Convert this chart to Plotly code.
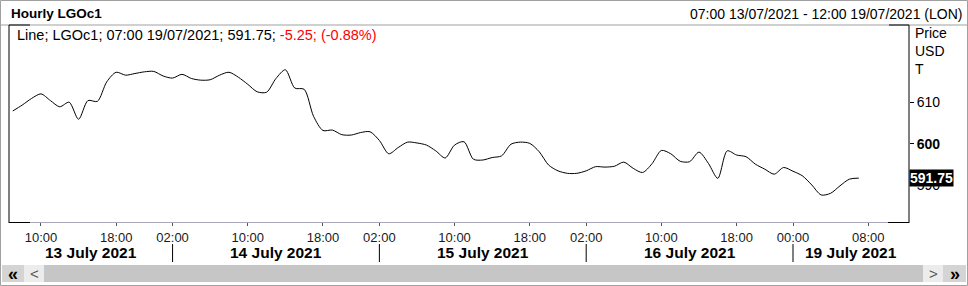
import plotly.graph_objects as go

# ---- data ----
days = [("13/07", 7, 23), ("14/07", 2, 23), ("15/07", 2, 23), ("16/07", 2, 23), ("19/07", 0, 7)]
times = [f"{d} {h:02d}:00" for d, h0, h1 in days for h in range(h0, h1 + 1)]

prices = [607.9, 609.3, 610.9, 612.0, 610.4, 608.9, 610.0, 605.9, 610.4, 610.2,
          614.9, 617.2, 616.5, 616.9, 617.3, 617.4, 616.3, 615.8, 616.7, 615.7,
          615.3, 615.4, 616.5, 617.2, 616.0, 614.3, 612.5, 612.4, 615.7, 617.8,
          613.4, 613.1, 606.6, 603.2, 603.3, 602.2, 602.1, 602.7, 602.9, 600.8,
          597.6, 599.1, 600.4, 600.2, 599.7, 598.3, 596.6, 599.7, 600.5, 596.3,
          596.1, 596.7, 597.1, 599.9, 600.4, 600.1, 598.1, 594.9, 593.5, 592.9,
          592.9, 593.5, 594.5, 594.4, 594.6, 595.6, 594.1, 593.1, 595.2, 598.4,
          597.6, 595.8, 595.7, 598.0, 595.3, 591.7, 598.3, 597.3, 596.9, 595.1,
          593.9, 592.7, 594.3, 593.4, 592.3, 590.1, 587.7, 588.1, 589.9, 591.5,
          591.75]

tick_times = ["13/07 10:00", "13/07 18:00", "14/07 02:00", "14/07 10:00", "14/07 18:00",
              "15/07 02:00", "15/07 10:00", "15/07 18:00", "16/07 02:00", "16/07 10:00",
              "16/07 18:00", "19/07 00:00", "19/07 08:00"]
tick_labels = ["10:00", "18:00", "02:00", "10:00", "18:00", "02:00", "10:00", "18:00",
               "02:00", "10:00", "18:00", "00:00", "08:00"]
all_ticks = times + ["19/07 08:00", "19/07 09:00", "19/07 10:00", "19/07 11:00", "19/07 12:00"]

day_labels = ["13 July 2021", "14 July 2021", "15 July 2021", "16 July 2021", "19 July 2021"]
day_starts = ["14/07 02:00", "15/07 02:00", "16/07 02:00", "19/07 00:00"]

y_ticks = [590, 600, 610]
y_ticktext = ["590", "<b>600</b>", "610"]

last_price = prices[-1]
FONT = "Liberation Sans, Arial, sans-serif"

W, H = 968, 286
L, R, T, B = 9, 909, 25, 222


def px(x):
    return (x - L) / (R - L)


def py(y):
    return (B - y) / (B - T)


fig = go.Figure()
fig.add_trace(go.Scatter(x=times, y=prices, mode="lines",
                         line=dict(color="black", width=1, shape="spline", smoothing=0.8),
                         hoverinfo="skip", showlegend=False))

idx = {t: i for i, t in enumerate(all_ticks)}
x_lo, x_hi = -0.4, 95.34

fig.update_layout(
    width=W, height=H,
    margin=dict(l=L, r=W - R, t=T, b=H - B),
    paper_bgcolor="white", plot_bgcolor="white",
    font=dict(family=FONT, size=13, color="black"),
    showlegend=False,
    xaxis=dict(type="category", categoryorder="array", categoryarray=all_ticks,
               range=[x_lo, x_hi], showgrid=False, zeroline=False, showline=False,
               tickmode="array", tickvals=tick_times, ticktext=tick_labels,
               ticks="outside", ticklen=3, tickcolor="#555", tickwidth=1,
               tickfont=dict(size=13, color="#1a1a1a", family=FONT)),
    yaxis=dict(side="right", range=[581.2, 628.56], showgrid=False, zeroline=False,
               showline=False, tickmode="array", tickvals=y_ticks, ticktext=y_ticktext,
               ticks="outside", ticklen=4, tickcolor="black",
               tickfont=dict(size=14, color="black", family=FONT)),
)

shapes = []
# outer border
shapes.append(dict(type="rect", xref="paper", yref="paper", x0=px(0.5), x1=px(W - 0.5),
                   y0=py(0.5), y1=py(H - 0.5), line=dict(color="#a0a0a0", width=1)))
# header separator line
shapes.append(dict(type="line", xref="paper", yref="paper", x0=px(0), x1=px(W),
                   y0=py(25), y1=py(25), line=dict(color="#a0a0a0", width=1)))
# bottom axis line light
shapes.append(dict(type="line", xref="paper", yref="paper", x0=px(9), x1=px(909),
                   y0=py(222.5), y1=py(222.5), line=dict(color="#a8a8b8", width=1)))
# plot frame black pieces
for (x0, y0, x1, y1) in [(9, 25, 9, 223), (909, 25, 909, 223), (9, 25, 30, 25),
                         (889, 25, 909, 25), (9, 222.5, 30, 222.5), (888, 222.5, 909, 222.5)]:
    shapes.append(dict(type="line", xref="paper", yref="paper", x0=px(x0), x1=px(x1),
                       y0=py(y0), y1=py(y1), line=dict(color="black", width=1)))
# day separators
for d in day_starts:
    shapes.append(dict(type="line", xref="x", yref="paper", x0=idx[d], x1=idx[d],
                       y0=py(244), y1=py(262), line=dict(color="black", width=1)))
# scrollbar
for (x0, x1, c) in [(44, 923, "#c6c6c6"), (2, 24, "#d4d4d4"), (24, 44, "#ececec"),
                    (923, 943, "#ececec"), (943, 966, "#d4d4d4")]:
    shapes.append(dict(type="rect", xref="paper", yref="paper", x0=px(x0), x1=px(x1),
                       y0=py(265), y1=py(282), line=dict(width=0), fillcolor=c, layer="above"))
fig.update_layout(shapes=shapes)

ann = []


def text(xp, yp, s, size=13, anchor="left", color="black", **kw):
    ann.append(dict(xref="paper", yref="paper", x=px(xp), y=py(yp), text=s, showarrow=False,
                    xanchor=anchor, yanchor="middle", font=dict(size=size, color=color, family=FONT),
                    **kw))


text(9, 14, "<b>Hourly LGOc1</b>", size=13.5)
text(964, 14, "07:00 13/07/2021 - 12:00 19/07/2021 (LON)", size=14, anchor="right")
text(15, 35, "Line; LGOc1; 07:00 19/07/2021; 591.75; "
             "<span style='color:#ff0000'>-5.25; (-0.88%)</span>", size=14.5)
text(913, 33, "Price", size=14)
text(913, 51, "USD", size=14)
text(913, 69, "T", size=14)
# scrollbar glyphs
text(13, 273.5, "<b>«</b>", size=18, anchor="center")
text(34, 273.5, "<", size=15, anchor="center", color="#555")
text(933, 273.5, ">", size=15, anchor="center", color="#555")
text(955, 273.5, "<b>»</b>", size=18, anchor="center")

# last price tag
ann.append(dict(xref="paper", yref="y", x=px(909), y=last_price, text=f"<b>{last_price:.2f}</b>",
                showarrow=False, xanchor="left", yanchor="middle", bgcolor="black",
                font=dict(size=14, color="white", family=FONT), borderpad=0))

# day labels
bounds = [x_lo] + [idx[d] for d in day_starts] + [x_hi]
for i, lab in enumerate(day_labels):
    ann.append(dict(xref="x", yref="paper", x=(bounds[i] + bounds[i + 1]) / 2, y=py(252),
                    text=f"<b>{lab}</b>", showarrow=False, xanchor="center", yanchor="middle",
                    font=dict(size=15.5, color="black", family=FONT)))
fig.update_layout(annotations=ann)

fig.write_html("out.html")
